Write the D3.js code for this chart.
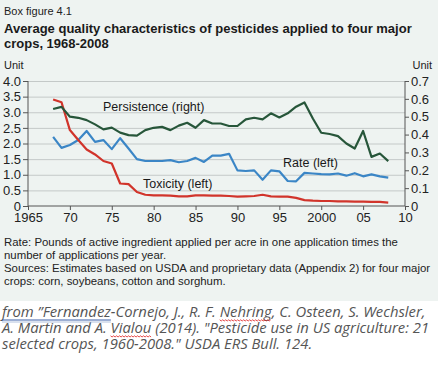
<!DOCTYPE html>
<html>
<head>
<meta charset="utf-8">
<script src="https://cdn.jsdelivr.net/npm/d3@7"></script>
<style>
  body { margin: 0; background: #fff; }
  svg { display: block; font-family: "Liberation Sans", Arial, sans-serif; }
</style>
</head>
<body>
<div id="chart"></div>
<script>
/* ---------- Data ---------- */
const years = d3.range(1968, 2009);

// Persistence, right axis (unit)
const persistence = [
  0.543, 0.555, 0.500, 0.494, 0.481, 0.457, 0.429, 0.439, 0.411, 0.397,
  0.394, 0.425, 0.438, 0.443, 0.425, 0.450, 0.466, 0.438, 0.481, 0.462,
  0.462, 0.448, 0.448, 0.485, 0.494, 0.485, 0.519, 0.496, 0.519, 0.556,
  0.580, 0.490, 0.410, 0.403, 0.391, 0.350, 0.322, 0.420, 0.275, 0.294,
  0.251
];

// Rate, left axis (unit)
const rate = [
  2.21, 1.86, 1.95, 2.11, 2.40, 2.05, 2.11, 1.82, 2.17, 1.84,
  1.50, 1.44, 1.44, 1.44, 1.47, 1.40, 1.44, 1.54, 1.41, 1.61,
  1.61, 1.67, 1.14, 1.12, 1.14, 0.84, 1.14, 1.11, 0.80, 0.79,
  1.06, 1.04, 1.02, 1.01, 1.04, 0.97, 1.05, 0.95, 1.01, 0.95,
  0.91
];

// Toxicity, left axis (unit)
const toxicity = [
  3.41, 3.32, 2.43, 2.11, 1.81, 1.65, 1.44, 1.36, 0.72, 0.70,
  0.45, 0.36, 0.34, 0.34, 0.33, 0.31, 0.31, 0.34, 0.34, 0.33,
  0.33, 0.32, 0.30, 0.31, 0.32, 0.36, 0.31, 0.30, 0.30, 0.26,
  0.19, 0.17, 0.16, 0.16, 0.15, 0.15, 0.14, 0.14, 0.13, 0.13,
  0.11
];

const xTicks = [1965, 1970, 1975, 1980, 1985, 1990, 1995, 2000, 2005, 2010];
const xTickLabels = ["1965", "70", "75", "80", "85", "90", "95", "2000", "05", "10"];
const leftTicks = [0, 0.5, 1, 1.5, 2, 2.5, 3, 3.5, 4];
const rightTicks = [0, 0.1, 0.2, 0.3, 0.4, 0.5, 0.6, 0.7];

const noteLines = [
  "Rate: Pounds of active ingredient applied per acre in one application times the",
  "number of applications per year.",
  "Sources: Estimates based on USDA and proprietary data (Appendix 2) for four major",
  "crops: corn, soybeans, cotton and sorghum."
];

const citeLines = [
  "from \u201dFernandez-Cornejo, J., R. F. Nehring, C. Osteen, S. Wechsler,",
  "A. Martin and A. Vialou (2014). \"Pesticide use in US agriculture: 21",
  "selected crops, 1960-2008.\" USDA ERS Bull. 124."
];

/* ---------- Chart ---------- */
function drawChart() {
  const width = 438, height = 370;
  const plot = { left: 28, right: 405, top: 81, bottom: 206 };

  const svg = d3.select("#chart").append("svg")
    .attr("width", width)
    .attr("height", height);

  // panel background
  svg.append("rect")
    .attr("x", 0).attr("y", 0)
    .attr("width", width).attr("height", 301)
    .attr("fill", "#eef3f1");

  svg.append("clipPath").attr("id", "panelClip")
    .append("rect").attr("width", width - 1).attr("height", 301);

  const panel = svg.append("g").attr("clip-path", "url(#panelClip)");

  // Headings
  panel.append("text")
    .attr("x", 4).attr("y", 15)
    .text("Box figure 4.1")
    .style("font-size", "11px")
    .style("fill", "#222");

  panel.selectAll(".title")
    .data(["Average quality characteristics of pesticides applied to four major", "crops, 1968-2008"])
    .enter().append("text")
    .attr("class", "title")
    .attr("x", 4)
    .attr("y", (d, i) => 33 + i * 15)
    .text(d => d)
    .style("font-size", "13px")
    .style("font-weight", "700")
    .style("fill", "#1a1a1a");

  const x = d3.scaleLinear().domain([1965, 2010]).range([plot.left, plot.right]);
  const yL = d3.scaleLinear().domain([0, 4]).range([plot.bottom, plot.top]);
  const yR = d3.scaleLinear().domain([0, 0.7]).range([plot.bottom, plot.top]);

  // Grid Lines
  panel.append("g")
    .attr("transform", `translate(${plot.left},0)`)
    .call(d3.axisLeft(yL)
      .tickValues(leftTicks.filter(d => d > 0))
      .tickSize(-(plot.right - plot.left))
      .tickFormat(""))
    .call(g => g.select(".domain").remove())
    .selectAll("line")
    .attr("stroke", "#c4c9c8")
    .attr("stroke-width", 1);

  // Left Axis
  panel.append("g")
    .attr("transform", `translate(${plot.left},0)`)
    .call(d3.axisLeft(yL)
      .tickValues(leftTicks)
      .tickSize(5)
      .tickPadding(2)
      .tickFormat(d => d === 0 ? "0" : d3.format(".1f")(d)))
    .call(g => g.select(".domain").attr("d", `M0,${plot.top}V${plot.bottom}`))
    .call(g => g.selectAll("line, path").attr("stroke", "#555"))
    .selectAll("text")
    .style("font-size", "13px")
    .style("font-family", "'Liberation Sans', Arial, sans-serif")
    .attr("fill", "#222");

  // Right Axis
  panel.append("g")
    .attr("transform", `translate(${plot.right},0)`)
    .call(d3.axisRight(yR)
      .tickValues(rightTicks)
      .tickSize(4)
      .tickPadding(2)
      .tickFormat(d => d === 0 ? "0" : d3.format(".1f")(d)))
    .call(g => g.select(".domain").attr("d", `M0,${plot.top}V${plot.bottom}`))
    .call(g => g.selectAll("line, path").attr("stroke", "#555"))
    .selectAll("text")
    .style("font-size", "13px")
    .style("font-family", "'Liberation Sans', Arial, sans-serif")
    .attr("fill", "#222");

  // X Axis
  panel.append("g")
    .attr("transform", `translate(0,${plot.bottom})`)
    .call(d3.axisBottom(x)
      .tickValues(xTicks)
      .tickSize(4)
      .tickPadding(3)
      .tickFormat((d, i) => xTickLabels[i]))
    .call(g => g.select(".domain").attr("d", `M${plot.left},0H${plot.right}`))
    .call(g => g.selectAll("line, path").attr("stroke", "#555"))
    .selectAll("text")
    .style("font-size", "13px")
    .style("font-family", "'Liberation Sans', Arial, sans-serif")
    .attr("fill", "#222");

  // Unit labels
  panel.append("text").attr("x", 4).attr("y", 69).text("Unit")
    .style("font-size", "11px").style("fill", "#222");
  panel.append("text").attr("x", 432).attr("y", 69).attr("text-anchor", "end").text("Unit")
    .style("font-size", "11px").style("fill", "#222");

  // Lines
  const lineL = d3.line().x((d, i) => x(years[i])).y(d => yL(d));
  const lineR = d3.line().x((d, i) => x(years[i])).y(d => yR(d));

  const series = [
    { values: rate, line: lineL, color: "#3b86c6" },
    { values: toxicity, line: lineL, color: "#d1342b" },
    { values: persistence, line: lineR, color: "#27563a" }
  ];

  panel.selectAll(".series")
    .data(series)
    .enter().append("path")
    .attr("class", "series")
    .attr("fill", "none")
    .attr("stroke", d => d.color)
    .attr("stroke-width", 2.2)
    .attr("stroke-linejoin", "round")
    .attr("d", d => d.line(d.values));

  // Series labels
  const labels = [
    { text: "Persistence (right)", x: 103, y: 111 },
    { text: "Rate (left)", x: 283, y: 167 },
    { text: "Toxicity (left)", x: 143, y: 188 }
  ];
  panel.selectAll(".series-label")
    .data(labels)
    .enter().append("text")
    .attr("class", "series-label")
    .attr("x", d => d.x)
    .attr("y", d => d.y)
    .text(d => d.text)
    .style("font-size", "12.5px")
    .style("fill", "#1a1a1a");

  // Notes
  panel.selectAll(".note")
    .data(noteLines)
    .enter().append("text")
    .attr("class", "note")
    .attr("x", 4)
    .attr("y", (d, i) => 246 + i * 13)
    .text(d => d)
    .style("font-size", "11.4px")
    .style("fill", "#222");

  // Citation
  const cite = svg.append("g")
    .style("font-family", "'Open Sans', Lato, sans-serif")
    .style("font-style", "italic")
    .style("font-size", "14.8px")
    .style("fill", "#555");

  const citeText = cite.selectAll("text")
    .data(citeLines)
    .enter().append("text")
    .attr("x", 2)
    .attr("y", (d, i) => 317 + i * 16)
    .text(d => d);

  // underline marks (link + spelling squiggles)
  function underline(lineIdx, word, color, wavy) {
    const node = citeText.nodes()[lineIdx];
    const str = citeLines[lineIdx];
    const start = str.indexOf(word);
    const x0 = 2 + node.getSubStringLength(0, start);
    const w = node.getSubStringLength(start, word.length);
    const yb = 317 + lineIdx * 16 + 3;
    if (!wavy) {
      cite.append("line").attr("x1", x0).attr("x2", x0 + w).attr("y1", yb).attr("y2", yb)
        .attr("stroke", color).attr("stroke-width", 1);
      cite.append("line").attr("x1", x0).attr("x2", x0 + w).attr("y1", yb + 2).attr("y2", yb + 2)
        .attr("stroke", "#9fb3d6").attr("stroke-width", 0.8);
      return;
    }
    const pts = d3.range(0, Math.floor(w / 1.5) + 1).map(k => [x0 + k * 1.5, yb + (k % 2 ? 1 : -0.2)]);
    cite.append("path").attr("d", d3.line()(pts))
      .attr("fill", "none").attr("stroke", color).attr("stroke-width", 0.8);
  }
  underline(0, "from \u201dFernandez", "#3b5fa8", false);
  underline(0, "Nehring", "#e02020", true);
  underline(1, "Vialou", "#e02020", true);
}

drawChart();
</script>
</body>
</html>
